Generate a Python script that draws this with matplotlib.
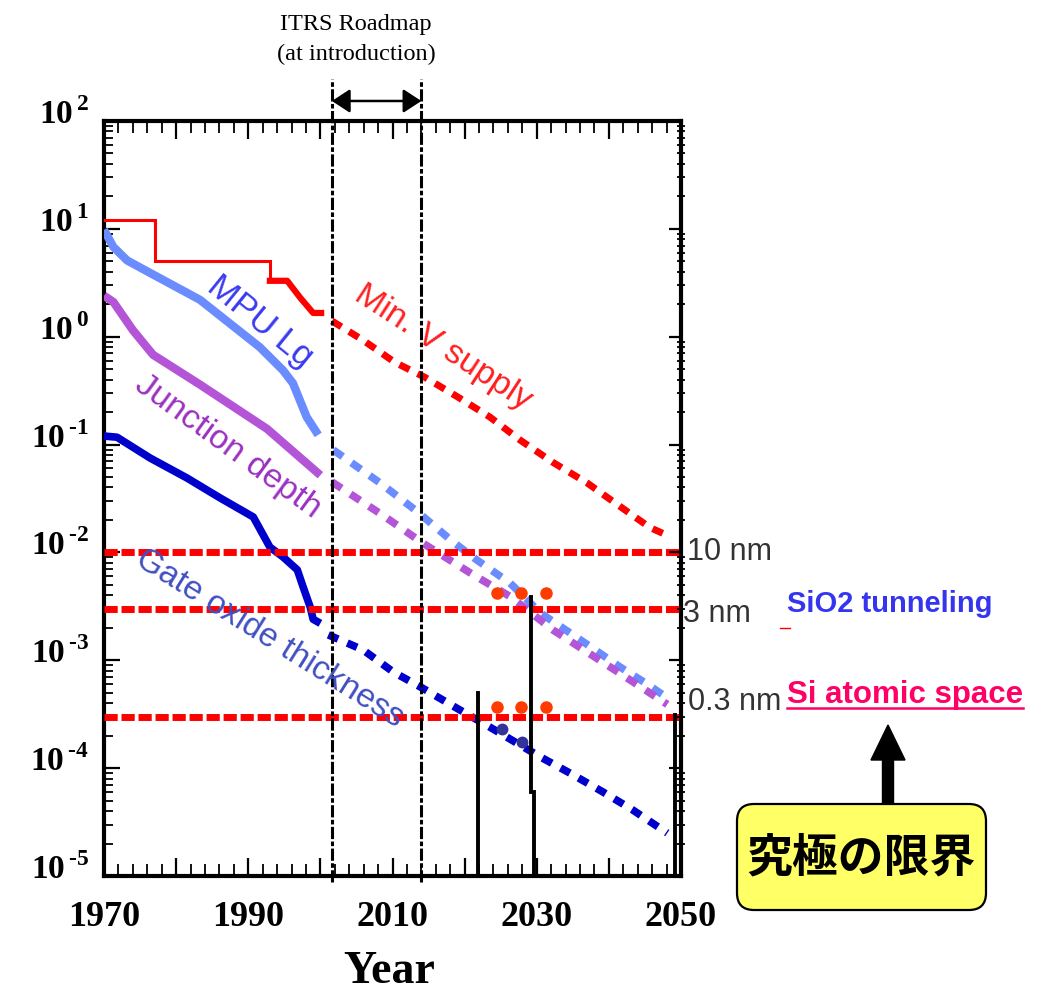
import numpy as np
import matplotlib
matplotlib.use("Agg")
import matplotlib.pyplot as plt
from matplotlib import transforms
from matplotlib.patches import FancyBboxPatch, FancyArrow
from matplotlib.ticker import FixedLocator, LogLocator, MultipleLocator, NullFormatter

plt.rcParams["mathtext.fontset"] = "custom"
plt.rcParams["mathtext.rm"] = "Liberation Serif:bold"
plt.rcParams["mathtext.bf"] = "Liberation Serif:bold"
plt.rcParams["font.family"] = ["Liberation Sans", "DejaVu Sans"]

# ---------------- data (all sizes in micrometres, supply in volts) ----------------
# minimum supply voltage: historical steps and roadmap projection
vdd_step_years = [1970, 1977.1, 1977.1, 1993.0, 1993.0]
vdd_step_values = [12, 12, 5, 5, 3.3]
vdd_late_years = [1993.0, 1995.4, 1997.2, 1999.0, 2000.1]
vdd_late_values = [3.3, 3.3, 2.3, 1.66, 1.66]
vdd_roadmap_years = [2001.6, 2005.9, 2010.3, 2014.5, 2018.9, 2023.5, 2027.7,
                     2032.3, 2037.0, 2041.1, 2045.7, 2048.5]
vdd_roadmap_values = [1.40, 0.93, 0.58, 0.42, 0.28, 0.18, 0.11,
                      0.068, 0.044, 0.028, 0.017, 0.014]

# MPU gate length
lg_years = [1970, 1971.3, 1973.2, 1976.4, 1983.3, 1991.6, 1994.8, 1996.2, 1998.1, 1999.7]
lg_values = [9.8, 6.8, 5.1, 3.9, 2.2, 0.80, 0.49, 0.37, 0.18, 0.123]
lg_roadmap_years = [2001.8, 2008.3, 2013.4, 2018.4, 2021.7, 2026.3, 2030.5,
                    2037.0, 2041.5, 2045.0, 2048.5]
lg_roadmap_values = [0.089, 0.044, 0.024, 0.0125, 0.0085, 0.0052, 0.00275,
                     0.0014, 0.00087, 0.00062, 0.00043]

# junction depth
xj_years = [1970, 1971.3, 1974.0, 1976.8, 1983.3, 1992.6, 2000.0]
xj_values = [2.4, 2.1, 1.15, 0.68, 0.36, 0.14, 0.052]
xj_roadmap_years = [2001.6, 2008.7, 2014.2, 2021.2, 2026.3, 2032.3, 2041.5, 2048.1]
xj_roadmap_values = [0.045, 0.022, 0.0122, 0.0062, 0.0039, 0.0019, 0.00076, 0.00039]

# gate oxide thickness
tox_years = [1970, 1971.8, 1976.4, 1981.5, 1986.1, 1990.7, 1993.0, 1994.8,
             1996.8, 1997.6, 1998.6, 1999.0, 2000.0]
tox_values = [0.12, 0.117, 0.075, 0.049, 0.032, 0.0213, 0.0112, 0.0091,
              0.0069, 0.0048, 0.0031, 0.0024, 0.0022]
tox_roadmap_years = [2001.1, 2005.9, 2010.1, 2014.2, 2018.9, 2023.5, 2030.5,
                     2034.6, 2039.2, 2043.3, 2048.1]
tox_roadmap_values = [1.72e-3, 1.25e-3, 7.8e-4, 5.5e-4, 3.6e-4, 2.4e-4, 1.27e-4,
                      9.0e-5, 6.0e-5, 4.1e-5, 2.5e-5]

# physical limits
limit_values = [1e-2, 3e-3, 3e-4]
limit_labels = ["10 nm", "3 nm", "0.3 nm"]

# ITRS roadmap window at introduction
itrs_span = [2001.6, 2014.0]

# vertical barrier markers
bar1_years = [2021.85, 2021.85]
bar1_values = [5.0e-4, 1e-5]
bar2_years = [2029.2, 2029.2, 2029.6, 2029.6]
bar2_values = [3.9e-3, 6.0e-5, 6.0e-5, 1e-5]
bar3_years = [2049.2, 2049.2]
bar3_values = [3.1e-4, 1e-5]

# ellipsis dots and crossing points
dot_years = [2024.5, 2027.8, 2031.3]
dot_levels = [4.2e-3, 3.7e-4]
cross_years = [2025.2, 2027.95]
cross_values = [2.31e-4, 1.75e-4]

# axis ticks
xtick_years = [1970, 1980, 1990, 2000, 2010, 2020, 2030, 2040, 2050]
xtick_labels = ["1970", "", "1990", "", "2010", "", "2030", "", "2050"]
ytick_exponents = [2, 1, 0, -1, -2, -3, -4, -5]

# ---------------- colours ----------------
RED = "#ff0000"
LIGHT_BLUE = "#6a8cff"
PURPLE = "#b455d8"
DARK_BLUE = "#0000cc"
ORANGE = "#ff3c00"
NAVY = "#333399"

# ---------------- figure ----------------
W, H = 1053, 993
L, R, T, B = 104, 681, 121, 876
fig = plt.figure(figsize=(W / 100, H / 100), dpi=100)
fig.patch.set_facecolor("white")
ax = fig.add_axes([L / W, 1 - B / H, (R - L) / W, (B - T) / H])
ax.set_yscale("log")
ax.set_xlim(1970, 2050)
ax.set_ylim(1e-5, 1e2)

for s in ax.spines.values():
    s.set_linewidth(3)

# right-hand tick marks on a twin axis (they cross the spine)
axr = ax.twinx()
axr.set_yscale("log")
axr.set_ylim(1e-5, 1e2)
for s in axr.spines.values():
    s.set_visible(False)
axr.yaxis.set_major_locator(FixedLocator([10.0 ** e for e in ytick_exponents]))
axr.yaxis.set_minor_locator(LogLocator(base=10, subs=np.arange(2, 10), numticks=30))
axr.yaxis.set_major_formatter(NullFormatter())
axr.yaxis.set_minor_formatter(NullFormatter())
axr.tick_params(axis="y", which="major", direction="in", length=9, width=1.6,
                right=True, left=False, labelright=False)
axr.tick_params(axis="y", which="minor", direction="inout", length=6, width=1.3,
                right=True, left=False, labelright=False)

ax.set_xticks(xtick_years)
ax.set_xticklabels(xtick_labels, fontfamily="Liberation Serif", fontweight="bold", fontsize=26)
ax.xaxis.set_minor_locator(MultipleLocator(2))
ax.yaxis.set_major_locator(FixedLocator([10.0 ** e for e in ytick_exponents]))
ax.yaxis.set_minor_locator(LogLocator(base=10, subs=np.arange(2, 10), numticks=30))
ax.yaxis.set_major_formatter(NullFormatter())
ax.yaxis.set_minor_formatter(NullFormatter())
ax.tick_params(axis="x", which="major", direction="in", length=13, width=1.6,
               top=True, bottom=True, pad=18)
ax.tick_params(axis="x", which="minor", direction="in", length=8.5, width=1.3,
               top=True, bottom=True)
ax.tick_params(axis="y", which="major", direction="in", length=11.5, width=1.6,
               left=True, right=False)
ax.tick_params(axis="y", which="minor", direction="in", length=6.5, width=1.3,
               left=True, right=False)

# y tick labels as powers of ten (plain hyphen for negative exponents)
ylab_tf = transforms.blended_transform_factory(ax.transAxes, ax.transData) + \
    transforms.ScaledTranslation(0, -0.03, fig.dpi_scale_trans)
for e in ytick_exponents:
    if e < 0:
        label = r"$\mathbf{10}^{\,\text{-}\mathbf{%d}}$" % abs(e)
    else:
        label = r"$\mathbf{10}^{\mathbf{\,%d}}$" % e
    ax.text(-0.026, 10.0 ** e, label, transform=ylab_tf,
            ha="right", va="baseline", fontsize=24, clip_on=False)

# ---------------- curves ----------------
ax.plot(vdd_step_years, vdd_step_values, color=RED, lw=2.2, solid_joinstyle="miter", zorder=4)
ax.plot(vdd_late_years, vdd_late_values, color=RED, lw=4.5, zorder=4)
ax.plot(vdd_roadmap_years, vdd_roadmap_values, color=RED, lw=5, dashes=(1.6, 1.3), zorder=4)

ax.plot(lg_years, lg_values, color=LIGHT_BLUE, lw=6, solid_capstyle="butt", zorder=3)
ax.plot(lg_roadmap_years, lg_roadmap_values, color=LIGHT_BLUE, lw=5.5, dashes=(1.5, 1.4), zorder=3)

ax.plot(xj_years, xj_values, color=PURPLE, lw=6, solid_capstyle="butt", zorder=3)
ax.plot(xj_roadmap_years, xj_roadmap_values, color=PURPLE, lw=5.5, dashes=(1.5, 1.4), zorder=3)

ax.plot(tox_years, tox_values, color=DARK_BLUE, lw=5.5, solid_capstyle="butt", zorder=3)
ax.plot(tox_roadmap_years, tox_roadmap_values, color=DARK_BLUE, lw=5.5, dashes=(1.4, 1.3), zorder=3)

for v in limit_values:
    ax.axhline(v, color=RED, lw=5, dashes=(1.9, 0.55), zorder=5)

# ITRS window
for yr in itrs_span:
    ax.axvline(yr, ymin=-0.008, ymax=1.056, color="black", lw=2.2,
               dashes=(4, 0.8, 1.5, 0.8), clip_on=False, zorder=6)
ax.annotate("", xy=(itrs_span[1], 1.0265), xytext=(itrs_span[0], 1.0265),
            xycoords=ax.get_xaxis_transform(), textcoords=ax.get_xaxis_transform(),
            arrowprops=dict(arrowstyle="<|-|>,head_length=0.55,head_width=0.36",
                            color="black", lw=1.8, shrinkA=0, shrinkB=0,
                            mutation_scale=20),
            annotation_clip=False)

# barriers
for xs, ys in [(bar1_years, bar1_values), (bar2_years, bar2_values), (bar3_years, bar3_values)]:
    ax.plot(xs, ys, color="black", lw=2.8, solid_joinstyle="miter", zorder=6)

# dots
for lvl in dot_levels:
    ax.plot(dot_years, [lvl] * len(dot_years), ls="none", marker="o", ms=8,
            color=ORANGE, zorder=7)
ax.plot(cross_years, cross_values, ls="none", marker="o", ms=7.5, color=NAVY, zorder=7)

# curve labels
ax.text(1991.6, 1.37, "MPU Lg", color="#3a3af0", fontsize=25, rotation=-39,
        rotation_mode="anchor", ha="center", va="center", zorder=8)
ax.text(2017.0, 0.80, "Min. V supply", color="#ff2020", fontsize=24.5, rotation=-33,
        rotation_mode="anchor", ha="center", va="center", zorder=8)
ax.text(1987.2, 0.095, "Junction depth", color="#9a30c0", fontsize=24.5, rotation=-36,
        rotation_mode="anchor", ha="center", va="center", zorder=8)
ax.text(1993.0, 1.58e-3, "Gate oxide thickness", color="#4050c0", fontsize=24,
        rotation=-32, rotation_mode="anchor", ha="center", va="center", zorder=8)

# ---------------- annotations outside the plot (pixel overlay) ----------------
ov = fig.add_axes([0, 0, 1, 1])
ov.set_xlim(0, W)
ov.set_ylim(H, 0)
ov.axis("off")
ov.patch.set_visible(False)

ov.text(356, 30, "ITRS Roadmap", ha="center", va="baseline", fontsize=17.5,
        family="Liberation Serif")
ov.text(356, 60, "(at introduction)", ha="center", va="baseline", fontsize=17.5,
        family="Liberation Serif")
ov.text(389, 983, "Year", ha="center", va="baseline", fontsize=33,
        family="Liberation Serif", fontweight="bold")

label_pos = [(687, 552), (683, 614), (688, 702)]
for (px, py), txt in zip(label_pos, limit_labels):
    ov.text(px, py, txt, ha="left", va="center", fontsize=22, color="#333333")

ov.text(787, 612, "SiO2 tunneling", ha="left", va="baseline", fontsize=21,
        fontweight="bold", color="#3535f0")
ov.plot([780, 790], [628, 628], color=RED, lw=1)
ov.text(787, 703, "Si atomic space", ha="left", va="baseline", fontsize=22.5,
        fontweight="bold", color="#ff0066")
ov.plot([787, 1023], [708, 708], color="#ff0066", lw=1.8)

ov.add_patch(FancyArrow(888, 804, 0, -79, width=11, head_width=34, head_length=35,
                        length_includes_head=True, color="black"))
ov.add_patch(FancyBboxPatch((737, 804), 249, 106, boxstyle="round,pad=0,rounding_size=17",
                            fc="#ffff66", ec="black", lw=1.6))
ov.text(861, 858, "究極の限界", ha="center", va="center", fontsize=33, fontweight="bold",
        family=["Noto Sans CJK JP", "DejaVu Sans"], color="black")

fig.savefig("out.png", dpi=100)
